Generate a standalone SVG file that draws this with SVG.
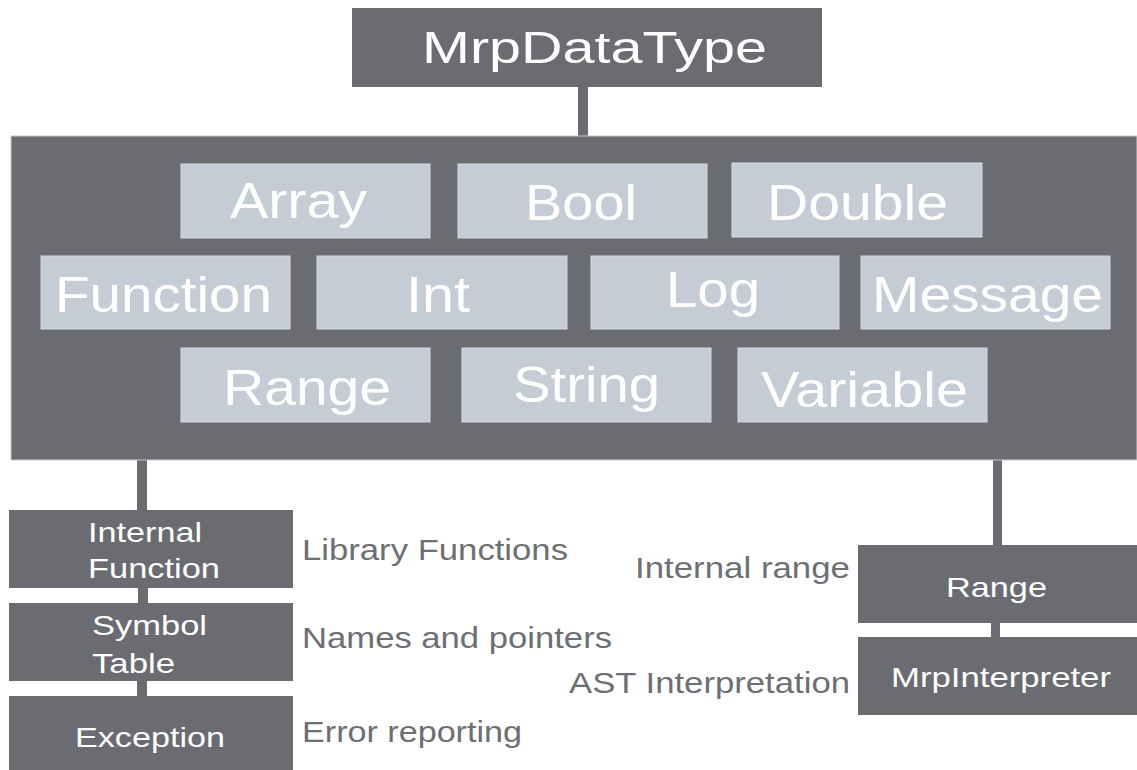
<svg xmlns="http://www.w3.org/2000/svg" width="1137" height="770" viewBox="0 0 1137 770">
  <style>
    .dark { fill: #6a6c71; }
    .light { fill: #c6ccd6; stroke: #d6dae0; stroke-width: 1; }
    .conn { fill: #6a6c71; }
    text { font-family: "Liberation Sans", Arial, sans-serif; }
    .big { fill: #ffffff; font-size: 50px; }
    .title { fill: #ffffff; font-size: 44px; }
    .small { fill: #ffffff; font-size: 28px; }
    .note { fill: #6d6f74; font-size: 30px; }
  </style>
  <rect width="1137" height="770" fill="#ffffff"/>

  <!-- connectors -->
  <g id="connectors">
    <rect class="conn" x="578" y="86" width="10" height="51"/>
    <rect class="conn" x="137" y="459" width="10" height="52"/>
    <rect class="conn" x="138" y="587" width="10" height="17"/>
    <rect class="conn" x="137" y="680" width="10" height="17"/>
    <rect class="conn" x="993" y="459" width="9" height="87"/>
    <rect class="conn" x="991" y="622" width="9" height="16"/>
  </g>

  <!-- root type -->
  <g id="mrpdatatype">
    <rect class="dark" x="352" y="8" width="470" height="79"/>
    <text class="title" x="422" y="63" textLength="345" lengthAdjust="spacingAndGlyphs">MrpDataType</text>
  </g>

  <!-- container of data types -->
  <g id="types">
    <rect class="dark" x="11" y="136" width="1126" height="324" stroke="#c8cacd" stroke-width="1"/>
  </g>
  <g id="type-array">
    <rect class="light" x="181" y="164" width="249" height="74"/>
    <text class="big" x="230" y="218" textLength="137" lengthAdjust="spacingAndGlyphs">Array</text>
  </g>
  <g id="type-bool">
    <rect class="light" x="458" y="164" width="249" height="74"/>
    <text class="big" x="525" y="220" textLength="112" lengthAdjust="spacingAndGlyphs">Bool</text>
  </g>
  <g id="type-double">
    <rect class="light" x="732" y="163" width="250" height="74"/>
    <text class="big" x="767" y="220" textLength="181" lengthAdjust="spacingAndGlyphs">Double</text>
  </g>
  <g id="type-function">
    <rect class="light" x="41" y="256" width="249" height="73"/>
    <text class="big" x="55" y="312" textLength="217" lengthAdjust="spacingAndGlyphs">Function</text>
  </g>
  <g id="type-int">
    <rect class="light" x="317" y="256" width="250" height="73"/>
    <text class="big" x="406" y="312" textLength="64" lengthAdjust="spacingAndGlyphs">Int</text>
  </g>
  <g id="type-log">
    <rect class="light" x="591" y="256" width="248" height="73"/>
    <text class="big" x="666" y="307" textLength="94" lengthAdjust="spacingAndGlyphs">Log</text>
  </g>
  <g id="type-message">
    <rect class="light" x="861" y="256" width="249" height="73"/>
    <text class="big" x="872" y="312" textLength="231" lengthAdjust="spacingAndGlyphs">Message</text>
  </g>
  <g id="type-range">
    <rect class="light" x="181" y="348" width="249" height="74"/>
    <text class="big" x="223" y="405" textLength="168" lengthAdjust="spacingAndGlyphs">Range</text>
  </g>
  <g id="type-string">
    <rect class="light" x="462" y="348" width="249" height="74"/>
    <text class="big" x="513" y="402" textLength="147" lengthAdjust="spacingAndGlyphs">String</text>
  </g>
  <g id="type-variable">
    <rect class="light" x="738" y="348" width="249" height="74"/>
    <text class="big" x="761" y="407" textLength="207" lengthAdjust="spacingAndGlyphs">Variable</text>
  </g>

  <!-- left support column -->
  <g id="internal-function">
    <rect class="dark" x="9" y="510" width="284" height="78"/>
    <text class="small" x="88" y="542" textLength="114" lengthAdjust="spacingAndGlyphs">Internal</text>
    <text class="small" x="88" y="578" textLength="132" lengthAdjust="spacingAndGlyphs">Function</text>
    <text class="note" x="302" y="560" textLength="266" lengthAdjust="spacingAndGlyphs">Library Functions</text>
  </g>
  <g id="symbol-table">
    <rect class="dark" x="9" y="603" width="284" height="78"/>
    <text class="small" x="92" y="635" textLength="115" lengthAdjust="spacingAndGlyphs">Symbol</text>
    <text class="small" x="92" y="673" textLength="83" lengthAdjust="spacingAndGlyphs">Table</text>
    <text class="note" x="302" y="648" textLength="310" lengthAdjust="spacingAndGlyphs">Names and pointers</text>
  </g>
  <g id="exception">
    <rect class="dark" x="9" y="696" width="284" height="74"/>
    <text class="small" x="75" y="747" textLength="150" lengthAdjust="spacingAndGlyphs">Exception</text>
    <text class="note" x="302" y="742" textLength="220" lengthAdjust="spacingAndGlyphs">Error reporting</text>
  </g>

  <!-- right support column -->
  <g id="range">
    <rect class="dark" x="858" y="545" width="279" height="78"/>
    <text class="small" x="946" y="597" textLength="101" lengthAdjust="spacingAndGlyphs">Range</text>
    <text class="note" x="635" y="578" textLength="215" lengthAdjust="spacingAndGlyphs">Internal range</text>
  </g>
  <g id="mrpinterpreter">
    <rect class="dark" x="858" y="637" width="279" height="78"/>
    <text class="small" x="891" y="687" textLength="220" lengthAdjust="spacingAndGlyphs">MrpInterpreter</text>
    <text class="note" x="569" y="693" textLength="281" lengthAdjust="spacingAndGlyphs">AST Interpretation</text>
  </g>
</svg>
